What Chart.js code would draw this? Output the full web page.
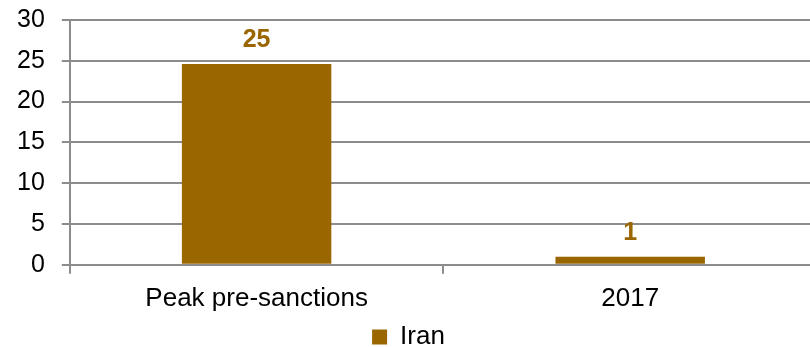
<!DOCTYPE html>
<html>
<head>
<meta charset="utf-8">
<script src="https://cdn.jsdelivr.net/npm/chart.js@4"></script>
<style>
    html, body { margin: 0; padding: 0; background: #fff; overflow: hidden; }
    #wrap { position: absolute; left: 0; top: -12px; width: 818px; height: 372px; }
</style>
</head>
<body>
<div id="wrap"><canvas id="chart"></canvas></div>
<script>
const categories = ['Peak pre-sanctions', '2017'];
const iranValues = [24.6, 1.0];
const iranLabels = ['25', '1'];
const yTicks = [0, 5, 10, 15, 20, 25, 30];

const barColor = '#996600';
const gridColor = '#8c8c8c';
const fontFamily = '"Liberation Sans", Arial, sans-serif';

// draws the value labels above each bar
const valueLabels = {
    id: 'valueLabels',
    afterDatasetsDraw(chart) {
        const ctx = chart.ctx;
        const meta = chart.getDatasetMeta(0);
        ctx.save();
        ctx.fillStyle = barColor;
        ctx.font = 'bold 25px ' + fontFamily;
        ctx.textAlign = 'center';
        ctx.textBaseline = 'alphabetic';
        meta.data.forEach((bar, i) => {
            ctx.fillText(iranLabels[i], bar.x, bar.y - 17);
        });
        ctx.restore();
    }
};

new Chart(document.getElementById('chart'), {
    type: 'bar',
    data: {
        labels: categories,
        datasets: [{
            label: 'Iran',
            data: iranValues,
            backgroundColor: barColor,
            categoryPercentage: 0.8,
            barPercentage: 0.5
        }]
    },
    options: {
        responsive: true,
        maintainAspectRatio: false,
        animation: false,
        layout: { padding: { top: 0, right: 1, left: 0, bottom: 0 } },
        plugins: {
            legend: {
                position: 'bottom',
                labels: {
                    color: '#000',
                    font: { size: 26, family: fontFamily },
                    boxWidth: 15,
                    boxHeight: 15,
                    padding: 1,
                    useBorderRadius: false
                }
            },
            tooltip: { enabled: false }
        },
        scales: {
            x: {
                offset: true,
                grid: {
                    offset: true,
                    drawOnChartArea: false,
                    drawTicks: true,
                    tickLength: 9,
                    color: gridColor,
                    lineWidth: 2
                },
                border: { color: gridColor, width: 2 },
                ticks: {
                    color: '#000',
                    padding: 9,
                    font: { size: 26, family: fontFamily }
                }
            },
            y: {
                min: 0,
                max: 30,
                afterBuildTicks(axis) {
                    axis.ticks = yTicks.map(v => ({ value: v }));
                },
                grid: {
                    color: gridColor,
                    lineWidth: 2,
                    tickLength: 8
                },
                border: { color: gridColor, width: 2 },
                ticks: {
                    color: '#000',
                    padding: 17,
                    font: { size: 25, family: fontFamily }
                }
            }
        }
    },
    plugins: [valueLabels]
});
</script>
</body>
</html>
